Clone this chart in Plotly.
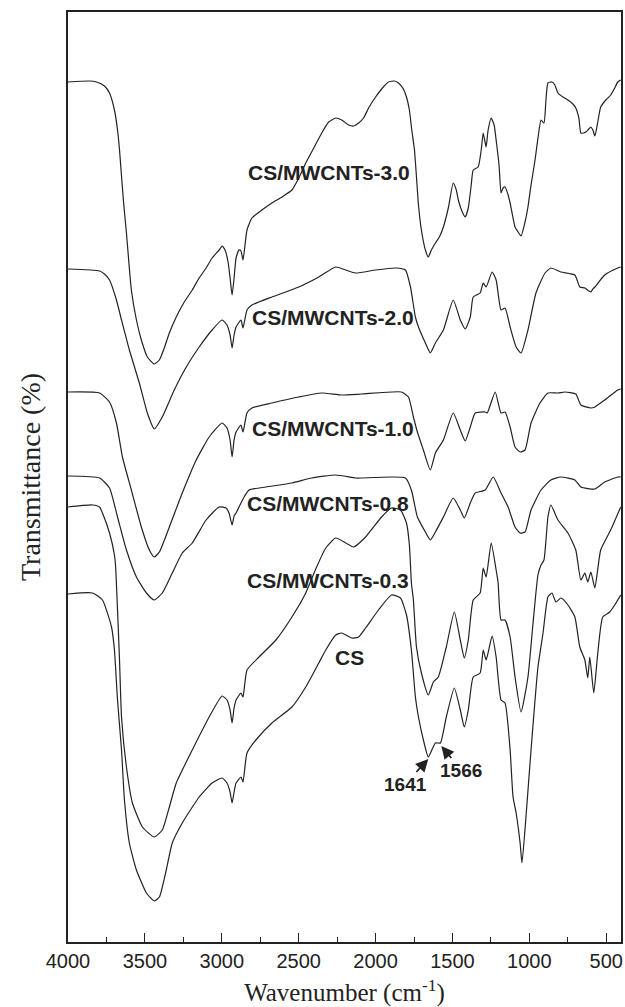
import plotly.graph_objects as go

# ---------------- data (wavenumber in cm-1, transmittance in arbitrary offset units) ----------------
wn_30 = [4000, 3860, 3815, 3763, 3730, 3698, 3678, 3665, 3640, 3620, 3588, 3555, 3523, 3484, 3439, 3406, 3374,
         3341, 3296, 3244, 3192, 3147, 3102, 3063, 3017, 2998, 2979, 2959, 2946, 2933, 2920, 2907, 2888, 2875,
         2862, 2849, 2836, 2804, 2739, 2674, 2609, 2544, 2499, 2454, 2402, 2350, 2305, 2259, 2220, 2175, 2143,
         2110, 2078, 2045, 2000, 1955, 1916, 1877, 1851, 1819, 1799, 1780, 1767, 1747, 1734, 1721, 1702, 1676,
         1657, 1637, 1611, 1585, 1559, 1527, 1495, 1475, 1462, 1436, 1417, 1397, 1378, 1365, 1333, 1313, 1300,
         1287, 1281, 1268, 1248, 1229, 1216, 1197, 1184, 1171, 1158, 1138, 1125, 1093, 1073, 1054, 1028, 1009,
         989, 963, 944, 924, 905, 892, 879, 853, 834, 814, 782, 749, 717, 698, 678, 665, 646, 633, 613, 600, 587,
         574, 555, 536, 503, 471, 445, 425, 406]
t_30 = [860, 861, 860, 856, 849, 832, 812, 792, 742, 709, 652, 622, 602, 585, 578, 582, 594,
        609, 625, 640, 652, 664, 674, 684, 692, 696, 692, 680, 664, 647, 664, 684, 692, 691,
        682, 697, 712, 724, 732, 739, 745, 752, 764, 779, 794, 809, 820, 824, 822, 817, 816,
        819, 824, 834, 845, 854, 860, 861, 859, 853, 845, 832, 815, 792, 765, 737, 712, 692,
        685, 692, 699, 705, 715, 734, 759, 752, 742, 730, 725, 734, 757, 772, 775, 792, 809,
        799, 795, 812, 824, 817, 802, 777, 749, 754, 755, 747, 739, 715, 710, 706, 720, 735,
        757, 782, 804, 822, 819, 842, 859, 860, 857, 849, 845, 842, 838, 834, 824, 809, 809, 810, 813, 815, 812,
        806, 820, 835, 842, 847, 854, 860, 862]

wn_20 = [4000, 3795, 3763, 3730, 3685, 3652, 3601, 3536, 3484, 3439, 3387, 3309, 3231, 3147, 3063, 2998, 2966,
         2946, 2933, 2920, 2907, 2875, 2862, 2836, 2804, 2674, 2499, 2369, 2259, 2194, 2130, 2000, 1870, 1806,
         1773, 1741, 1721, 1676, 1644, 1611, 1559, 1495, 1449, 1417, 1384, 1365, 1320, 1300, 1281, 1242, 1216,
         1184, 1158, 1125, 1086, 1054, 1009, 957, 898, 860, 795, 704, 672, 639, 613, 600, 587, 574, 510, 425, 406]
t_20 = [673, 671, 668, 662, 642, 622, 592, 559, 529, 513, 525, 552, 575, 595, 612, 622, 617,
        607, 594, 607, 615, 622, 614, 632, 637, 645, 655, 665, 675, 672, 669, 672, 674, 672,
        655, 625, 615, 599, 589, 599, 612, 642, 622, 613, 625, 645, 649, 659, 655, 670, 662,
        632, 634, 615, 595, 589, 612, 649, 669, 674, 670, 667, 655, 654, 651, 650, 653, 655, 667, 674, 675]

wn_10 = [4000, 3795, 3730, 3685, 3646, 3588, 3523, 3471, 3439, 3406, 3341, 3257, 3166, 3082, 2998, 2966, 2946,
         2933, 2920, 2907, 2875, 2862, 2836, 2804, 2674, 2499, 2350, 2220, 2091, 1832, 1786, 1754, 1728, 1689,
         1644, 1611, 1559, 1495, 1449, 1417, 1384, 1352, 1287, 1274, 1222, 1184, 1158, 1125, 1093, 1060, 1028,
         989, 931, 879, 814, 769, 698, 665, 600, 574, 510, 425, 406]
t_10 = [550, 549, 540, 519, 485, 452, 415, 392, 385, 390, 415, 449, 482, 505, 519, 514, 502,
        485, 502, 510, 517, 510, 529, 534, 539, 545, 549, 547, 548, 550, 545, 525, 510, 492,
        472, 489, 502, 529, 512, 501, 515, 529, 530, 529, 550, 529, 530, 515, 495, 490, 492,
        519, 539, 549, 549, 550, 548, 537, 534, 535, 542, 552, 553]

wn_08 = [4000, 3795, 3730, 3678, 3620, 3555, 3490, 3439, 3387, 3322, 3257, 3192, 3102, 3017, 2972, 2953, 2933,
         2920, 2907, 2875, 2855, 2823, 2713, 2544, 2415, 2259, 2130, 2091, 1806, 1767, 1728, 1676, 1644, 1611,
         1559, 1495, 1449, 1423, 1384, 1352, 1287, 1235, 1184, 1138, 1093, 1060, 1028, 989, 924, 860, 795, 704,
         665, 574, 510, 425, 406]
t_08 = [466, 464, 454, 425, 392, 365, 349, 342, 349, 369, 389, 399, 422, 435, 434, 429, 417,
        426, 429, 439, 445, 452, 455, 459, 464, 467, 464, 464, 464, 452, 425, 410, 402, 410,
        425, 444, 432, 424, 439, 449, 452, 465, 449, 435, 415, 409, 410, 432, 452, 462, 465, 462,
        455, 453, 460, 465, 465]

wn_03 = [4000, 3840, 3795, 3776, 3730, 3698, 3691, 3678, 3665, 3652, 3620, 3581, 3516, 3439, 3387, 3341, 3296,
         3192, 3082, 2998, 2966, 2946, 2933, 2920, 2907, 2875, 2862, 2836, 2758, 2648, 2544, 2454, 2389, 2324,
         2259, 2194, 2143, 2065, 1961, 1896, 1838, 1799, 1780, 1767, 1754, 1734, 1702, 1657, 1624, 1592, 1540,
         1488, 1449, 1423, 1397, 1365, 1320, 1300, 1281, 1248, 1216, 1203, 1184, 1158, 1125, 1093, 1054, 1009,
         976, 944, 924, 905, 879, 860, 814, 749, 698, 665, 639, 620, 600, 574, 536, 471, 406]
t_03 = [435, 437, 435, 429, 409, 387, 377, 332, 282, 225, 175, 139, 115, 105, 112, 135, 159,
        192, 225, 246, 242, 232, 219, 234, 242, 249, 245, 272, 285, 302, 325, 349, 373, 394,
        404, 399, 395, 405, 425, 434, 432, 419, 397, 359, 342, 295, 269, 247, 260, 265, 295,
        330, 302, 284, 302, 342, 349, 374, 365, 399, 372, 359, 322, 322, 305, 265, 230, 265,
        319, 367, 377, 382, 425, 437, 422, 409, 392, 362, 369, 360, 370, 354, 392, 412, 435]

wn_cs = [4000, 3840, 3776, 3717, 3698, 3678, 3652, 3633, 3601, 3555, 3490, 3439, 3406, 3361, 3322, 3257, 3147,
         3063, 2998, 2966, 2946, 2933, 2920, 2907, 2875, 2862, 2836, 2778, 2674, 2544, 2454, 2369, 2324, 2259,
         2220, 2156, 2110, 2065, 1981, 1896, 1838, 1799, 1767, 1741, 1721, 1689, 1657, 1611, 1579, 1540, 1488,
         1449, 1423, 1397, 1365, 1320, 1300, 1281, 1242, 1216, 1184, 1158, 1125, 1106, 1086, 1060, 1048, 1022,
         989, 944, 911, 879, 853, 827, 795, 749, 704, 672, 639, 620, 607, 581, 555, 523, 477, 445, 406]
t_cs = [348, 349, 342, 315, 292, 242, 192, 142, 99, 72, 49, 41, 45, 72, 99, 119, 145,
        159, 164, 159, 150, 139, 150, 159, 165, 160, 189, 202, 219, 235, 255, 279, 292, 307,
        309, 304, 305, 314, 332, 347, 344, 327, 292, 245, 225, 202, 185, 199, 199, 225, 254,
        232, 215, 232, 265, 269, 292, 282, 306, 285, 242, 239, 192, 145, 129, 99, 79, 125,
        192, 275, 309, 345, 349, 340, 344, 337, 325, 295, 282, 264, 285, 249, 289, 325, 330, 337, 347]

series = [
    ("CS/MWCNTs-3.0", wn_30, t_30),
    ("CS/MWCNTs-2.0", wn_20, t_20),
    ("CS/MWCNTs-1.0", wn_10, t_10),
    ("CS/MWCNTs-0.8", wn_08, t_08),
    ("CS/MWCNTs-0.3", wn_03, t_03),
    ("CS", wn_cs, t_cs),
]

# label positions (wavenumber, transmittance)
label_names = ["CS/MWCNTs-3.0", "CS/MWCNTs-2.0", "CS/MWCNTs-1.0", "CS/MWCNTs-0.8", "CS/MWCNTs-0.3", "CS"]
label_x = [2305, 2279, 2279, 2311, 2311, 2169]
label_y = [770, 625, 514, 439, 362, 285]

# peak markers: label text centre and the point the arrow points at
peak_labels = ["1641", "1566"]
peak_text_x = [1806, 1443]
peak_text_y = [158, 172]
peak_tip_x = [1657, 1572]
peak_tip_y = [183, 196]

x_ticks = [4000, 3500, 3000, 2500, 2000, 1500, 1000, 500]

# ---------------- figure ----------------
INK = "#222222"
fig = go.Figure()
for name, xs, ys in series:
    fig.add_trace(go.Scatter(x=xs, y=ys, mode="lines", name=name,
                             line=dict(color=INK, width=1.2, shape="spline", smoothing=0.5),
                             showlegend=False, hoverinfo="skip"))

label_font = dict(family="Arial, Liberation Sans, sans-serif", size=21, color=INK, weight="bold")
for t, x, y in zip(label_names, label_x, label_y):
    fig.add_annotation(x=x, y=y, xref="x", yref="y", text=t, showarrow=False,
                       font=label_font, xanchor="center", yanchor="middle")

for t, tx, ty, hx, hy in zip(peak_labels, peak_text_x, peak_text_y, peak_tip_x, peak_tip_y):
    fig.add_annotation(x=hx, y=hy, xref="x", yref="y", ax=tx, ay=ty, axref="x", ayref="y",
                       text=t, showarrow=True, arrowhead=2, arrowsize=1.4, arrowwidth=1.8,
                       arrowcolor=INK, standoff=0,
                       font=dict(family="Arial, Liberation Sans, sans-serif", size=19, color=INK, weight="bold"))

fig.update_layout(
    width=625, height=1007,
    margin=dict(l=68, r=2, t=12, b=65),
    paper_bgcolor="white", plot_bgcolor="white",
    showlegend=False,
)
fig.update_xaxes(
    range=[4000, 404], tickvals=x_ticks, ticktext=[str(v) for v in x_ticks],
    ticks="inside", ticklen=9, tickwidth=1.3, tickcolor=INK,
    minor=dict(ticks="inside", ticklen=5, tickwidth=1.3, tickcolor=INK, dtick=250, tick0=0, showgrid=False),
    showline=True, linecolor=INK, linewidth=1.5, mirror=True,
    showgrid=False, zeroline=False,
    tickfont=dict(family="Arial, Liberation Sans, sans-serif", size=20, color=INK),
    ticklabelstandoff=0,
    title=dict(text="Wavenumber (cm<sup>-1</sup>)",
               font=dict(family="Times New Roman, Liberation Serif, serif", size=25, color=INK),
               standoff=13),
)
fig.update_yaxes(
    range=[0, 930], showticklabels=False, ticks="",
    showline=True, linecolor=INK, linewidth=1.5, mirror=True,
    showgrid=False, zeroline=False,
    title=dict(text="Transmittance (%)",
               font=dict(family="Times New Roman, Liberation Serif, serif", size=28, color=INK),
               standoff=17),
)

fig.write_html("out.html")
